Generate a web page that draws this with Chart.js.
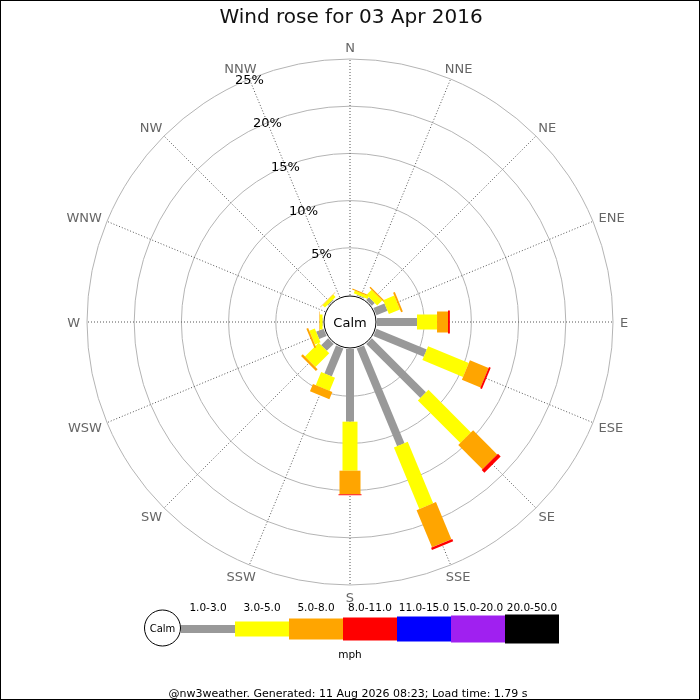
<!DOCTYPE html>
<html><head><meta charset="utf-8">
<script src="https://cdn.jsdelivr.net/npm/chart.js@4.4.1/dist/chart.umd.min.js"></script>
<style>html,body{margin:0;padding:0;background:#fff}#wrap{position:relative;width:700px;height:700px}</style>
</head><body><div id="wrap"><canvas id="c"></canvas></div>
<script>
const titleText = 'Wind rose for 03 Apr 2016';
const footerText = '@nw3weather. Generated: 11 Aug 2026 08:23; Load time: 1.79 s';
const directions = ['N','NNE','NE','ENE','E','ESE','SE','SSE','S','SSW','SW','WSW','W','WNW','NW','NNW'];
const speedBins = ['1.0-3.0','3.0-5.0','5.0-8.0','8.0-11.0','11.0-15.0','15.0-20.0','20.0-50.0'];
const speedUnit = 'mph';
const calmLabel = 'Calm';
// percentage of observations per direction, one array per speed bin
const speed1to3   = [0, 0.10, 0.42, 1.27, 4.24, 5.77, 8.10, 11.21, 7.70, 3.21, 1.04, 0.85, 0.05, 0, 0.10, 0];
const speed3to5   = [0, 0.32, 0.75, 1.27, 2.12, 4.66, 6.37, 7.04, 5.19, 1.50, 2.06, 0.63, 0.30, 0, 0.35, 0];
const speed5to8   = [0, 0.10, 0.15, 0.20, 1.16, 2.14, 3.62, 4.27, 2.50, 0.82, 0.26, 0.20, 0.05, 0, 0.05, 0];
const speed8to11  = [0, 0, 0, 0, 0.20, 0.20, 0.40, 0.25, 0.10, 0, 0, 0, 0, 0, 0, 0];
const speed11to15 = [0, 0, 0, 0, 0, 0, 0, 0, 0, 0, 0, 0, 0, 0, 0, 0];
const speed15to20 = [0, 0, 0, 0, 0, 0, 0, 0, 0, 0, 0, 0, 0, 0, 0, 0];
const speed20to50 = [0, 0, 0, 0, 0, 0, 0, 0, 0, 0, 0, 0, 0, 0, 0, 0];
const ringValues = [0, 5, 10, 15, 20, 25];
const ringLabels = ['', '5%', '10%', '15%', '20%', '25%'];

const series = [speed1to3, speed3to5, speed5to8, speed8to11, speed11to15, speed15to20, speed20to50];
const binColors = ['#999999', '#ffff00', '#ffa500', '#ff0000', '#0000ff', '#a020f0', '#000000'];
const binWidths = [8, 15, 21, 23, 25, 27, 29];
const FONT = '"DejaVu Sans", "Liberation Sans", sans-serif';

const windRosePlugin = {
  id: 'windrose',
  afterDatasetsDraw(chart) {
    const s = chart.scales.r;
    const ctx = chart.ctx;
    const cx = s.xCenter, cy = s.yCenter;
    ctx.save();
    // bars
    chart.data.labels.forEach((lab, i) => {
      const ang = s.getIndexAngle(i) - Math.PI / 2;
      let cum = 0;
      chart.data.datasets.forEach((ds, k) => {
        const v = ds.data[i];
        if (!(v > 0)) return;
        const r0 = s.getDistanceFromCenterForValue(cum);
        cum += v;
        const r1 = s.getDistanceFromCenterForValue(cum);
        const w = binWidths[k];
        ctx.save();
        ctx.translate(cx, cy);
        ctx.rotate(ang);
        ctx.fillStyle = binColors[k];
        ctx.fillRect(r0, -w / 2, r1 - r0, w);
        ctx.restore();
      });
    });
    // calm circle
    const rc = s.getDistanceFromCenterForValue(0) - 1;
    ctx.beginPath();
    ctx.arc(cx, cy, rc, 0, Math.PI * 2);
    ctx.fillStyle = '#fff'; ctx.fill();
    ctx.lineWidth = 1; ctx.strokeStyle = '#000'; ctx.stroke();
    ctx.fillStyle = '#000';
    ctx.font = '13px ' + FONT;
    ctx.textAlign = 'center'; ctx.textBaseline = 'alphabetic';
    ctx.fillText(calmLabel, cx, cy + 4.7);
    // point labels
    ctx.font = '13px ' + FONT;
    ctx.fillStyle = '#666';
    chart.data.labels.forEach((lab, i) => {
      const th = s.getIndexAngle(i);
      const p = s.getPointPosition(i, s.drawingArea + 7);
      const w = ctx.measureText(lab).width;
      const capH = 9.5;
      const x = p.x + Math.sin(th) * w / 2;
      const y = p.y - Math.cos(th) * capH / 2;
      ctx.fillText(lab, x, y + capH / 2);
    });
    // ring labels along NNW spoke
    ctx.fillStyle = '#000';
    ringValues.forEach((v, j) => {
      if (!ringLabels[j]) return;
      const p = s.getPointPosition(15, s.getDistanceFromCenterForValue(v));
      ctx.fillText(ringLabels[j], p.x, p.y + 4.7);
    });
    // title
    ctx.font = '20px ' + FONT;
    ctx.fillStyle = '#111';
    ctx.fillText(titleText, 351, 23);
    // legend
    const lx = 162.5, ly = 628, lr = 18;
    ctx.beginPath(); ctx.arc(lx, ly, lr, 0, Math.PI * 2);
    ctx.fillStyle = '#fff'; ctx.fill(); ctx.strokeStyle = '#000'; ctx.stroke();
    ctx.fillStyle = '#000'; ctx.font = '10px ' + FONT;
    ctx.fillText(calmLabel, lx, ly + 3.6);
    const segX = 181, segW = 54, segY = 629;
    ctx.font = '10.5px ' + FONT;
    speedBins.forEach((b, k) => {
      const x0 = segX + k * segW;
      ctx.fillStyle = binColors[k];
      ctx.fillRect(x0, segY - binWidths[k] / 2, segW, binWidths[k]);
      ctx.fillStyle = '#000';
      ctx.fillText(b, x0 + segW / 2, 611);
    });
    ctx.fillText(speedUnit, 350, 658);
    // footer
    ctx.font = '11px ' + FONT;
    ctx.fillText(footerText, 348, 697);
    // frame
    ctx.strokeStyle = '#000'; ctx.lineWidth = 1;
    ctx.strokeRect(0.5, 0.5, 699, 699);
    ctx.restore();
  }
};

new Chart(document.getElementById('c'), {
  type: 'radar',
  data: {
    labels: directions,
    datasets: series.map((d, k) => ({
      label: speedBins[k], data: d, showLine: false, fill: false,
      pointRadius: 0, pointHoverRadius: 0, borderWidth: 0,
      backgroundColor: binColors[k], borderColor: binColors[k]
    }))
  },
  options: {
    responsive: true, maintainAspectRatio: false, animation: false,
    events: [],
    layout: { padding: { left: 87, right: 87, top: 59, bottom: 115 } },
    plugins: { legend: { display: false }, tooltip: { enabled: false }, title: { display: false } },
    scales: {
      r: {
        min: -2.86, max: 25,
        startAngle: 0,
        ticks: { display: false, stepSize: 5 },
        afterBuildTicks: (sc) => { sc.ticks = ringValues.map(v => ({ value: v })); },
        grid: { circular: true, lineWidth: 1,
          color: (c) => (c.tick && c.tick.value === 0) ? 'rgba(0,0,0,0)' : '#b4b4b4' },
        angleLines: { display: true, color: '#555', lineWidth: 1, borderDash: [1, 2] },
        pointLabels: { display: false }
      }
    }
  },
  plugins: [windRosePlugin]
});
</script></body></html>
